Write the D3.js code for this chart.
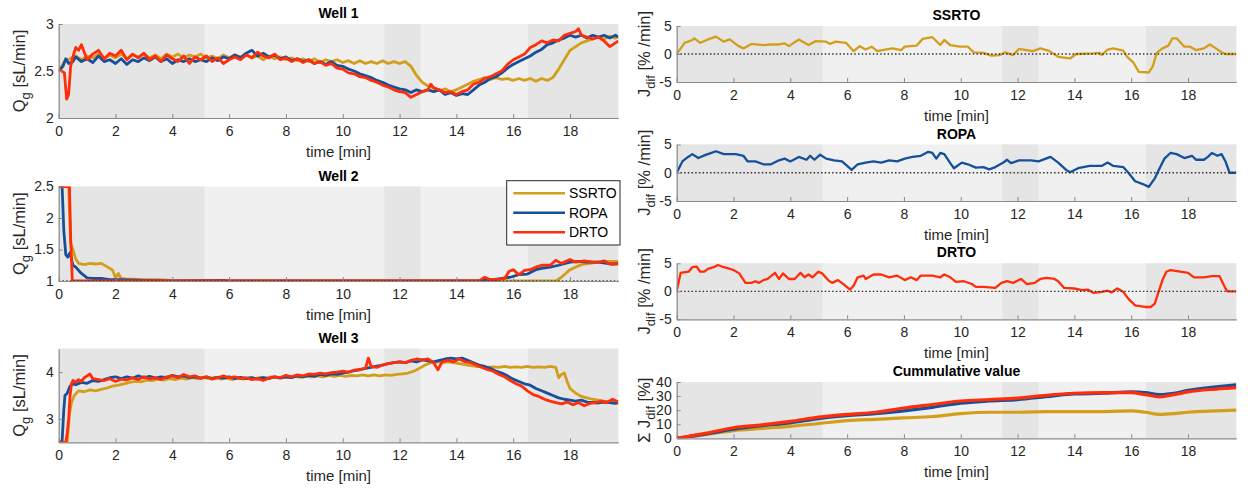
<!DOCTYPE html>
<html>
<head>
<meta charset="utf-8">
<script src="https://cdn.jsdelivr.net/npm/d3@7"></script>
<style>
  body { margin: 0; background: #fff; }
  svg { display: block; font-family: "Liberation Sans", Arial, Helvetica, sans-serif; }
</style>
</head>
<body>
<div id="chart"></div>
<script>
// ---- data (time in min) ----
const seriesNames = ['SSRTO', 'ROPA', 'DRTO'];
const seriesColors = ['#d39e1c', '#16509a', '#ff2d0a'];
const timeMax = 19.7;
// darker shaded intervals, the rest of each axes is light grey
const darkBands = [[0, 5.13], [11.46, 12.73], [16.52, 19.7]];

const w1Ssrto = [[0,2.5],[0.2,2.6],[0.4,2.63],[0.6,2.66],[0.8,2.62],[1.0,2.66],[1.2,2.64],[1.4,2.68],[1.6,2.63],[1.8,2.67],[2.0,2.64],[2.2,2.68],[2.4,2.63],[2.6,2.67],[2.8,2.65],[3.0,2.68],[3.2,2.64],[3.4,2.67],[3.6,2.63],[3.8,2.68],[4.0,2.65],[4.2,2.68],[4.4,2.64],[4.6,2.67],[4.8,2.65],[5.0,2.68],[5.2,2.64],[5.4,2.66],[5.6,2.63],[5.8,2.67],[6.0,2.64],[6.2,2.67],[6.4,2.65],[6.6,2.68],[6.8,2.64],[7.0,2.66],[7.2,2.62],[7.4,2.66],[7.6,2.63],[7.8,2.65],[8.0,2.62],[8.2,2.64],[8.4,2.61],[8.6,2.63],[8.8,2.6],[9.0,2.63],[9.2,2.59],[9.4,2.62],[9.6,2.6],[9.8,2.62],[10.0,2.59],[10.2,2.61],[10.4,2.58],[10.6,2.61],[10.8,2.58],[11.0,2.6],[11.2,2.58],[11.4,2.61],[11.6,2.58],[11.8,2.6],[12.0,2.58],[12.2,2.6],[12.4,2.55],[12.6,2.45],[12.8,2.38],[13.0,2.34],[13.2,2.32],[13.4,2.29],[13.6,2.31],[13.8,2.28],[14.0,2.3],[14.2,2.33],[14.4,2.36],[14.6,2.39],[14.8,2.41],[15.0,2.43],[15.2,2.41],[15.4,2.43],[15.6,2.41],[15.8,2.42],[16.0,2.4],[16.2,2.42],[16.4,2.4],[16.6,2.42],[16.8,2.39],[17.0,2.42],[17.2,2.4],[17.4,2.43],[17.6,2.52],[17.8,2.62],[18.0,2.72],[18.2,2.76],[18.4,2.8],[18.6,2.82],[18.8,2.84],[19.0,2.86],[19.2,2.84],[19.4,2.87],[19.6,2.85],[19.7,2.87]];
const w1Ropa = [[0,2.5],[0.15,2.55],[0.25,2.63],[0.35,2.58],[0.5,2.6],[0.6,2.65],[0.8,2.6],[1.0,2.63],[1.2,2.59],[1.4,2.66],[1.6,2.6],[1.8,2.62],[2.0,2.58],[2.2,2.63],[2.4,2.57],[2.6,2.62],[2.8,2.6],[3.0,2.64],[3.2,2.61],[3.4,2.65],[3.6,2.6],[3.8,2.63],[4.0,2.58],[4.2,2.62],[4.4,2.6],[4.6,2.63],[4.8,2.6],[5.0,2.62],[5.2,2.6],[5.4,2.64],[5.6,2.61],[5.8,2.65],[6.0,2.63],[6.2,2.67],[6.4,2.64],[6.6,2.69],[6.8,2.72],[7.0,2.66],[7.2,2.69],[7.4,2.65],[7.6,2.67],[7.8,2.63],[8.0,2.65],[8.2,2.61],[8.4,2.63],[8.6,2.6],[8.8,2.62],[9.0,2.58],[9.2,2.6],[9.4,2.57],[9.6,2.6],[9.8,2.56],[10.0,2.55],[10.2,2.52],[10.4,2.5],[10.6,2.47],[10.8,2.45],[11.0,2.43],[11.2,2.4],[11.4,2.38],[11.6,2.35],[11.8,2.33],[12.0,2.31],[12.2,2.3],[12.4,2.27],[12.6,2.3],[12.8,2.28],[13.0,2.3],[13.2,2.28],[13.4,2.3],[13.6,2.25],[13.8,2.27],[14.0,2.24],[14.2,2.26],[14.4,2.25],[14.6,2.3],[14.8,2.35],[15.0,2.38],[15.2,2.42],[15.4,2.44],[15.6,2.48],[15.8,2.53],[16.0,2.57],[16.2,2.6],[16.4,2.63],[16.6,2.66],[16.8,2.7],[17.0,2.73],[17.2,2.78],[17.4,2.8],[17.6,2.83],[17.8,2.85],[18.0,2.88],[18.2,2.86],[18.4,2.88],[18.6,2.85],[18.8,2.88],[19.0,2.86],[19.2,2.88],[19.4,2.85],[19.6,2.88],[19.7,2.86]];
const w1Drto = [[0,2.52],[0.2,2.48],[0.28,2.2],[0.35,2.25],[0.42,2.55],[0.5,2.65],[0.6,2.75],[0.7,2.72],[0.8,2.78],[0.9,2.7],[1.0,2.62],[1.2,2.68],[1.4,2.72],[1.6,2.63],[1.8,2.69],[2.0,2.66],[2.2,2.72],[2.4,2.62],[2.6,2.68],[2.8,2.64],[3.0,2.69],[3.2,2.62],[3.4,2.66],[3.6,2.6],[3.8,2.67],[4.0,2.63],[4.2,2.6],[4.4,2.66],[4.6,2.58],[4.8,2.65],[5.0,2.62],[5.2,2.66],[5.4,2.6],[5.6,2.64],[5.8,2.58],[6.0,2.62],[6.2,2.65],[6.4,2.62],[6.6,2.67],[6.8,2.64],[7.0,2.7],[7.2,2.66],[7.4,2.64],[7.6,2.68],[7.8,2.62],[8.0,2.64],[8.2,2.6],[8.4,2.63],[8.6,2.59],[8.8,2.62],[9.0,2.58],[9.2,2.6],[9.4,2.56],[9.6,2.58],[9.8,2.53],[10.0,2.52],[10.2,2.48],[10.4,2.47],[10.6,2.44],[10.8,2.43],[11.0,2.4],[11.2,2.38],[11.4,2.35],[11.6,2.33],[11.8,2.3],[12.0,2.28],[12.2,2.27],[12.4,2.22],[12.6,2.25],[12.8,2.28],[13.0,2.3],[13.1,2.36],[13.2,2.32],[13.4,2.3],[13.6,2.27],[13.8,2.28],[14.0,2.25],[14.2,2.28],[14.4,2.3],[14.6,2.36],[14.8,2.38],[15.0,2.42],[15.2,2.44],[15.4,2.47],[15.6,2.5],[15.8,2.57],[16.0,2.62],[16.2,2.65],[16.4,2.68],[16.6,2.75],[16.8,2.78],[17.0,2.82],[17.2,2.8],[17.4,2.83],[17.6,2.82],[17.8,2.88],[18.0,2.9],[18.2,2.92],[18.3,2.95],[18.4,2.88],[18.6,2.86],[18.8,2.84],[19.0,2.86],[19.2,2.82],[19.4,2.76],[19.6,2.8],[19.7,2.82]];

const w2Ssrto = [[0,2.5],[0.35,2.5],[0.42,1.6],[0.5,1.5],[0.6,1.35],[0.7,1.28],[0.9,1.26],[1.1,1.28],[1.3,1.27],[1.5,1.28],[1.65,1.24],[1.8,1.2],[1.9,1.17],[2.0,1.05],[2.1,1.12],[2.2,1.04],[2.4,1.03],[2.6,1.03],[3.0,1.02],[3.5,1.02],[4.0,1.01],[5.0,1.0],[17.5,1.0],[17.7,1.06],[17.8,1.1],[18.0,1.18],[18.2,1.22],[18.4,1.26],[18.7,1.28],[19.0,1.3],[19.4,1.31],[19.7,1.31]];
const w2Ropa = [[0,2.5],[0.12,2.5],[0.18,1.8],[0.25,1.42],[0.32,1.38],[0.4,1.45],[0.5,1.25],[0.6,1.22],[0.8,1.12],[1.0,1.05],[1.2,1.04],[1.5,1.04],[1.8,1.02],[2.2,1.02],[3.0,1.01],[4.0,1.0],[5.8,1.01],[6.0,1.0],[14.8,1.0],[15.0,1.03],[15.3,1.02],[15.6,1.04],[15.9,1.06],[16.2,1.1],[16.5,1.11],[16.8,1.18],[17.0,1.2],[17.3,1.22],[17.6,1.25],[18.0,1.3],[18.3,1.31],[18.6,1.3],[19.0,1.3],[19.3,1.28],[19.5,1.27],[19.7,1.28]];
const w2Drto = [[0,2.5],[0.38,2.5],[0.42,1.7],[0.48,1.0],[14.8,1.0],[15.0,1.06],[15.2,1.02],[15.5,1.03],[15.7,1.04],[15.85,1.15],[16.0,1.18],[16.2,1.1],[16.4,1.17],[16.6,1.18],[16.8,1.22],[17.0,1.25],[17.3,1.25],[17.5,1.33],[17.7,1.28],[18.0,1.34],[18.2,1.3],[18.5,1.32],[18.8,1.3],[19.0,1.3],[19.2,1.32],[19.4,1.27],[19.7,1.27]];

const w3Ssrto = [[0,2.5],[0.3,2.5],[0.38,3.1],[0.45,3.35],[0.55,3.5],[0.7,3.6],[0.9,3.58],[1.1,3.62],[1.3,3.6],[1.5,3.63],[1.7,3.66],[1.9,3.7],[2.1,3.72],[2.3,3.75],[2.5,3.78],[2.7,3.8],[2.9,3.79],[3.1,3.83],[3.3,3.82],[3.5,3.85],[3.7,3.83],[3.9,3.86],[4.1,3.84],[4.3,3.87],[4.5,3.85],[4.7,3.88],[4.9,3.86],[5.1,3.88],[5.3,3.86],[5.5,3.89],[5.7,3.85],[5.9,3.87],[6.1,3.84],[6.3,3.87],[6.5,3.85],[6.7,3.88],[6.9,3.86],[7.1,3.89],[7.3,3.87],[7.5,3.9],[7.7,3.88],[7.9,3.9],[8.1,3.88],[8.3,3.91],[8.5,3.89],[8.7,3.91],[8.9,3.9],[9.1,3.92],[9.3,3.9],[9.5,3.93],[9.7,3.91],[9.9,3.93],[10.1,3.91],[10.3,3.93],[10.5,3.92],[10.7,3.94],[10.9,3.92],[11.1,3.94],[11.3,3.92],[11.5,3.94],[11.7,3.93],[11.9,3.95],[12.1,3.96],[12.3,3.98],[12.5,4.02],[12.7,4.08],[12.9,4.15],[13.1,4.2],[13.3,4.22],[13.5,4.2],[13.7,4.22],[13.9,4.2],[14.1,4.18],[14.3,4.16],[14.5,4.14],[14.7,4.12],[14.9,4.12],[15.1,4.1],[15.3,4.11],[15.5,4.1],[15.7,4.12],[15.9,4.1],[16.1,4.11],[16.3,4.1],[16.5,4.12],[16.7,4.1],[16.9,4.11],[17.1,4.1],[17.3,4.12],[17.5,4.1],[17.6,3.88],[17.7,3.95],[17.8,3.98],[17.9,3.8],[18.0,3.65],[18.2,3.55],[18.4,3.48],[18.6,3.45],[18.8,3.42],[19.0,3.4],[19.2,3.38],[19.4,3.37],[19.6,3.35],[19.7,3.33]];
const w3Ropa = [[0,2.5],[0.12,2.52],[0.18,3.2],[0.22,3.5],[0.3,3.55],[0.4,3.7],[0.5,3.75],[0.6,3.73],[0.8,3.78],[1.0,3.76],[1.2,3.82],[1.4,3.8],[1.6,3.84],[1.8,3.88],[2.0,3.9],[2.2,3.86],[2.4,3.9],[2.6,3.87],[2.8,3.92],[3.0,3.88],[3.2,3.91],[3.4,3.87],[3.6,3.9],[3.8,3.88],[4.0,3.93],[4.2,3.9],[4.4,3.92],[4.6,3.88],[4.8,3.9],[5.0,3.87],[5.2,3.9],[5.4,3.86],[5.6,3.89],[5.8,3.87],[6.0,3.9],[6.2,3.86],[6.4,3.89],[6.6,3.86],[6.8,3.88],[7.0,3.85],[7.2,3.88],[7.4,3.86],[7.6,3.9],[7.8,3.87],[8.0,3.9],[8.2,3.88],[8.4,3.92],[8.6,3.9],[8.8,3.93],[9.0,3.91],[9.2,3.95],[9.4,3.93],[9.6,3.96],[9.8,3.95],[10.0,3.98],[10.2,4.0],[10.4,4.03],[10.6,4.05],[10.8,4.08],[11.0,4.1],[11.2,4.13],[11.4,4.15],[11.6,4.18],[11.8,4.2],[12.0,4.22],[12.2,4.2],[12.4,4.24],[12.6,4.22],[12.8,4.26],[13.0,4.24],[13.2,4.22],[13.4,4.25],[13.6,4.28],[13.8,4.3],[14.0,4.28],[14.2,4.3],[14.4,4.25],[14.6,4.2],[14.8,4.15],[15.0,4.12],[15.2,4.08],[15.4,4.02],[15.6,3.98],[15.8,3.92],[16.0,3.85],[16.2,3.8],[16.4,3.75],[16.6,3.72],[16.8,3.65],[17.0,3.6],[17.2,3.55],[17.4,3.5],[17.6,3.45],[17.8,3.42],[18.0,3.4],[18.2,3.38],[18.4,3.4],[18.6,3.36],[18.8,3.35],[19.0,3.34],[19.2,3.36],[19.4,3.35],[19.6,3.33],[19.7,3.36]];
const w3Drto = [[0,2.5],[0.25,2.5],[0.3,2.7],[0.35,3.0],[0.4,3.5],[0.45,3.75],[0.5,3.82],[0.6,3.78],[0.7,3.84],[0.8,3.8],[0.9,3.88],[1.0,3.92],[1.1,3.96],[1.2,3.86],[1.4,3.84],[1.6,3.82],[1.8,3.86],[2.0,3.8],[2.2,3.85],[2.4,3.83],[2.6,3.88],[2.8,3.84],[3.0,3.9],[3.2,3.85],[3.4,3.88],[3.6,3.84],[3.8,3.9],[4.0,3.92],[4.2,3.88],[4.4,3.95],[4.6,3.9],[4.8,3.92],[5.0,3.87],[5.2,3.9],[5.4,3.85],[5.6,3.88],[5.8,3.92],[6.0,3.88],[6.2,3.9],[6.4,3.86],[6.6,3.88],[6.8,3.84],[7.0,3.86],[7.2,3.82],[7.4,3.87],[7.6,3.9],[7.8,3.88],[8.0,3.93],[8.2,3.9],[8.4,3.94],[8.6,3.92],[8.8,3.96],[9.0,3.95],[9.2,3.98],[9.4,3.96],[9.6,3.99],[9.8,4.0],[10.0,4.02],[10.2,4.0],[10.4,4.04],[10.6,4.06],[10.8,4.08],[10.9,4.3],[11.0,4.12],[11.2,4.1],[11.4,4.15],[11.6,4.18],[11.8,4.2],[12.0,4.22],[12.2,4.2],[12.4,4.25],[12.6,4.28],[12.8,4.26],[13.0,4.28],[13.2,4.2],[13.35,4.05],[13.5,4.22],[13.7,4.25],[13.9,4.22],[14.1,4.28],[14.3,4.22],[14.5,4.2],[14.7,4.15],[14.9,4.1],[15.1,4.05],[15.3,4.02],[15.5,3.95],[15.7,3.9],[15.9,3.82],[16.1,3.75],[16.3,3.7],[16.5,3.6],[16.7,3.52],[16.9,3.48],[17.1,3.42],[17.3,3.38],[17.5,3.35],[17.7,3.32],[17.9,3.36],[18.1,3.3],[18.3,3.35],[18.5,3.28],[18.7,3.33],[18.9,3.35],[19.1,3.38],[19.3,3.35],[19.5,3.42],[19.7,3.36]];

// J_dif [% /min]
const jSsrto = [[0,0],[0.28,2.0],[0.55,2.5],[0.62,2.8],[0.83,2.0],[1.1,2.6],[1.38,3.1],[1.66,2.2],[1.87,2.6],[2.15,1.5],[2.35,1.0],[2.63,1.8],[3.05,1.6],[3.3,1.7],[3.6,1.7],[3.8,1.9],[3.95,1.4],[4.3,2.6],[4.64,1.6],[4.9,2.3],[5.26,2.2],[5.4,1.8],[5.6,2.2],[5.96,2.0],[6.23,0.5],[6.44,1.4],[6.65,0.8],[6.86,1.3],[7.06,0.5],[7.34,0.8],[7.6,1.0],[7.9,0.7],[8.03,1.3],[8.45,1.5],[8.66,2.7],[9.0,3.0],[9.28,1.6],[9.42,2.5],[9.63,1.6],[9.97,1.3],[10.25,1.3],[10.46,0.3],[10.8,0.2],[11.08,-0.3],[11.36,-0.2],[11.57,0.3],[11.84,-0.2],[12.05,0.9],[12.53,0.5],[12.8,1.0],[13.09,0.6],[13.43,-0.5],[13.85,-0.8],[14.06,0],[14.68,0.1],[14.9,0.2],[14.96,-0.2],[15.17,0.8],[15.37,1.0],[15.72,0.6],[15.86,-0.5],[16.07,-1.5],[16.27,-3.2],[16.62,-3.3],[16.76,-2.2],[16.9,0.2],[17.1,1.0],[17.31,1.5],[17.45,2.8],[17.6,2.8],[17.87,1.3],[18.07,1.3],[18.28,0.7],[18.56,1.0],[18.77,1.7],[18.98,1.0],[19.18,0.3],[19.32,0],[19.7,0]];
const jRopa = [[0,0],[0.2,2.0],[0.4,2.8],[0.55,3.3],[0.76,2.6],[1.04,3.2],[1.1,3.3],[1.38,3.8],[1.66,3.3],[2.08,3.3],[2.35,3.0],[2.5,2.0],[2.77,2.0],[3.05,1.5],[3.32,1.5],[3.6,2.2],[3.8,2.5],[4.0,2.0],[4.3,2.8],[4.57,2.3],[4.7,3.0],[4.85,2.3],[5.05,3.2],[5.26,2.5],[5.54,2.2],[5.82,2.0],[6.16,0.5],[6.37,1.5],[6.65,1.8],[6.93,2.0],[7.2,1.8],[7.48,2.2],[7.76,2.0],[8.03,2.5],[8.3,2.8],[8.59,3.0],[8.86,3.7],[9.0,3.5],[9.14,2.5],[9.28,3.5],[9.42,3.3],[9.63,1.7],[9.76,0.8],[10.04,1.8],[10.25,1.5],[10.53,0.9],[10.8,1.0],[11.0,0.6],[11.22,1.0],[11.5,1.8],[11.63,2.3],[11.77,1.7],[12.05,2.2],[12.47,2.2],[12.74,2.0],[13.16,2.8],[13.43,1.8],[13.71,0.5],[13.85,0.1],[14.13,0.8],[14.54,1.2],[14.96,1.2],[15.17,1.8],[15.37,1.2],[15.72,1.0],[15.9,0],[16.14,-1.5],[16.41,-2.0],[16.62,-2.5],[16.83,-1.0],[16.97,0.5],[17.17,2.5],[17.38,3.5],[17.6,3.3],[17.87,2.6],[18.14,3.0],[18.28,2.3],[18.56,2.3],[18.7,2.8],[18.84,3.5],[19.04,3.0],[19.18,3.3],[19.32,2.0],[19.46,0],[19.7,0]];
const jDrto = [[0,0],[0.14,3.3],[0.42,3.5],[0.55,4.3],[0.7,4.4],[0.83,3.5],[0.97,3.5],[1.1,4.0],[1.3,4.3],[1.45,4.7],[1.66,4.3],[1.87,4.0],[2.0,3.8],[2.2,3.2],[2.42,1.5],[2.63,1.5],[2.77,1.8],[2.9,1.5],[3.05,2.0],[3.2,2.2],[3.46,3.3],[3.6,2.2],[3.74,3.2],[3.95,2.2],[4.15,2.2],[4.36,3.3],[4.5,2.5],[4.64,3.0],[4.78,2.5],[4.99,3.5],[5.12,3.2],[5.33,2.0],[5.47,1.5],[5.68,2.0],[5.89,1.2],[6.1,0.3],[6.23,1.0],[6.37,2.5],[6.58,2.8],[6.65,2.2],[6.93,3.0],[7.2,3.0],[7.48,2.5],[7.76,2.8],[8.03,2.0],[8.24,2.5],[8.45,2.0],[8.59,2.8],[9.0,2.8],[9.28,2.5],[9.42,3.0],[9.63,2.5],[9.83,1.7],[10.11,1.8],[10.39,1.3],[10.53,0.8],[10.8,0.8],[11.22,0.6],[11.43,1.5],[11.63,1.8],[11.84,1.5],[12.12,2.2],[12.33,1.3],[12.6,1.5],[12.8,2.2],[13.02,2.4],[13.3,2.2],[13.43,1.8],[13.64,0.6],[13.99,0.5],[14.27,0.2],[14.47,0.3],[14.68,-0.3],[14.96,-0.1],[15.17,0.1],[15.3,-0.2],[15.51,0.5],[15.72,-0.1],[15.93,-1.5],[16.14,-2.5],[16.48,-2.8],[16.69,-2.8],[16.83,-2.2],[16.97,0],[17.1,2.0],[17.24,3.5],[17.38,3.8],[17.73,3.5],[18.0,3.3],[18.21,2.5],[18.56,2.5],[18.84,2.7],[19.11,2.7],[19.32,0.5],[19.39,0],[19.7,0]];

// cumulative sum of J_dif [%]
const cumSsrto = [[0,0],[1,2.5],[2,5.5],[3,7],[4,8.5],[5,10.5],[6,12.5],[7,13.5],[8,14.5],[9,15.5],[10,17.5],[11,18.5],[12,18.5],[13,19],[14,19],[15,19],[16,19.5],[16.5,18.5],[17,17],[17.5,17.5],[18,18.5],[19,19.5],[19.7,20]];
const cumRopa = [[0,0],[1,3],[2,6.5],[3,9],[4,11],[5,14],[6,16],[7,17.5],[8,19.5],[9,22],[10,25],[11,26.5],[12,27.5],[13,29.5],[14,31.5],[15,32],[16,33],[16.5,32.5],[17,31],[17.5,32],[18,34],[19,36.5],[19.7,38]];
const cumDrto = [[0,0],[1,3.5],[2,7.5],[3,9.5],[4,12],[5,15],[6,17],[7,18.5],[8,21.5],[9,24],[10,26.5],[11,27.5],[12,28.5],[13,30.5],[14,32],[15,32.5],[16,32.5],[16.5,31],[17,29.5],[17.5,31],[18,33],[19,35],[19.7,36]];

const xTicks = [0, 2, 4, 6, 8, 10, 12, 14, 16, 18];

// ---- layout ----
const W = 1248, H = 490;
const leftX = [58.7, 618.3], rightX = [676.7, 1236.3];

const panels = [
  { title: 'Well 1', x: leftX, top: 24, h: 94, y: [2, 3], yTicks: [2, 2.5, 3], ylab: ['Q', 'g', ' [sL/min]'],
    lines: [w1Ssrto, w1Ropa, w1Drto], colors: [0, 1, 2], lw: 2.8 },
  { title: 'Well 2', x: leftX, top: 186.5, h: 94.5, y: [1, 2.5], yTicks: [1, 1.5, 2, 2.5], ylab: ['Q', 'g', ' [sL/min]'],
    lines: [w2Ssrto, w2Ropa, w2Drto], colors: [0, 1, 2], lw: 2.8, refLine: 1 },
  { title: 'Well 3', x: leftX, top: 348.7, h: 93.6, y: [2.5, 4.5], yTicks: [3, 4], ylab: ['Q', 'g', ' [sL/min]'],
    lines: [w3Ssrto, w3Ropa, w3Drto], colors: [0, 1, 2], lw: 2.8 },
  { title: 'SSRTO', x: rightX, top: 26, h: 56, y: [-5, 5], yTicks: [-5, 0, 5], ylab: ['J', 'dif', ' [% /min]'],
    lines: [jSsrto], colors: [0], lw: 2.3, refLine: 0 },
  { title: 'ROPA', x: rightX, top: 144.5, h: 56.5, y: [-5, 5], yTicks: [-5, 0, 5], ylab: ['J', 'dif', ' [% /min]'],
    lines: [jRopa], colors: [1], lw: 2.3, refLine: 0 },
  { title: 'DRTO', x: rightX, top: 263.3, h: 56, y: [-5, 5], yTicks: [-5, 0, 5], ylab: ['J', 'dif', ' [% /min]'],
    lines: [jDrto], colors: [2], lw: 2.3, refLine: 0 },
  { title: 'Cummulative value', x: rightX, top: 382, h: 56.3, y: [0, 40], yTicks: [0, 10, 20, 30, 40], ylab: ['\u03A3 J', 'dif', ' [%]'],
    lines: [cumSsrto, cumRopa, cumDrto], colors: [0, 1, 2], lw: 3.2, smooth: true }
];

const svg = d3.select('#chart').append('svg').attr('width', W).attr('height', H);

panels.forEach((p, i) => {
  const x = d3.scaleLinear().domain([0, timeMax]).range(p.x);
  const y = d3.scaleLinear().domain(p.y).range([p.top + p.h, p.top]);
  const g = svg.append('g');

  // background and shaded intervals
  g.append('rect').attr('x', p.x[0]).attr('y', p.top)
    .attr('width', p.x[1] - p.x[0]).attr('height', p.h).attr('fill', '#f0f0f0');
  g.selectAll('.band').data(darkBands).enter().append('rect')
    .attr('x', d => x(d[0])).attr('y', p.top)
    .attr('width', d => x(d[1]) - x(d[0])).attr('height', p.h)
    .attr('fill', '#e5e5e5');

  const clipId = 'clip' + i;
  svg.append('clipPath').attr('id', clipId).append('rect')
    .attr('x', p.x[0]).attr('y', p.top).attr('width', p.x[1] - p.x[0]).attr('height', p.h);

  const line = d3.line().x(d => x(d[0])).y(d => y(d[1]))
    .curve(p.smooth ? d3.curveMonotoneX : d3.curveLinear);

  const lg = g.append('g').attr('clip-path', `url(#${clipId})`);
  p.lines.forEach((s, k) => {
    lg.append('path').datum(s).attr('d', line)
      .attr('fill', 'none').attr('stroke', seriesColors[p.colors[k]])
      .attr('stroke-width', p.lw).attr('stroke-linejoin', 'round');
  });

  if (p.refLine !== undefined) {
    lg.append('line').attr('x1', p.x[0]).attr('x2', p.x[1])
      .attr('y1', y(p.refLine)).attr('y2', y(p.refLine))
      .attr('stroke', '#333').attr('stroke-width', 1.3).attr('stroke-dasharray', '1.5,2.2');
  }

  // axes
  const xAxis = d3.axisBottom(x).tickValues(xTicks).tickFormat(d3.format('d')).tickSizeInner(-4).tickSizeOuter(0).tickPadding(8);
  const gx = g.append('g').attr('transform', `translate(0,${p.top + p.h})`).call(xAxis);
  const yAxis = d3.axisLeft(y).tickValues(p.yTicks).tickFormat(d => String(d)).tickSizeInner(-4).tickSizeOuter(0).tickPadding(5);
  const gy = g.append('g').attr('transform', `translate(${p.x[0]},0)`).call(yAxis);
  [gx, gy].forEach(a => {
    a.select('.domain').attr('stroke', '#8a8a8a').attr('stroke-width', 1.2);
    a.selectAll('.tick line').attr('stroke', '#8a8a8a');
    a.selectAll('.tick text').attr('fill', '#262626').style('font-size', '14px')
      .style('font-family', '"Liberation Sans", Arial, sans-serif');
  });

  // title
  g.append('text').attr('x', (p.x[0] + p.x[1]) / 2).attr('y', p.top - 6)
    .attr('text-anchor', 'middle').style('font-size', '14px').style('font-weight', 'bold')
    .attr('fill', '#000').text(p.title);

  // x label
  g.append('text').attr('x', (p.x[0] + p.x[1]) / 2).attr('y', p.top + p.h + 39)
    .attr('text-anchor', 'middle').style('font-size', '15px').attr('fill', '#262626')
    .text('time [min]');

  // y label with subscript
  const yl = g.append('text')
    .attr('transform', `translate(${p.x[0] - (i < 3 ? 34 : 27)},${p.top + p.h / 2}) rotate(-90)`)
    .attr('text-anchor', 'middle').style('font-size', '16.5px').attr('fill', '#262626');
  yl.append('tspan').text(p.ylab[0]);
  yl.append('tspan').attr('dy', 5).style('font-size', '13px').text(p.ylab[1]);
  yl.append('tspan').attr('dy', -5).text(p.ylab[2]);
});

// legend
const legend = svg.append('g');
legend.append('rect').attr('x', 506.7).attr('y', 180.7).attr('width', 113.3).attr('height', 64.3)
  .attr('fill', '#fff').attr('stroke', '#262626').attr('stroke-width', 1);
seriesNames.forEach((n, k) => {
  const yy = 193.3 + k * 19.5;
  legend.append('line').attr('x1', 513.3).attr('x2', 565).attr('y1', yy).attr('y2', yy)
    .attr('stroke', seriesColors[k]).attr('stroke-width', 2.6);
  legend.append('text').attr('x', 569).attr('y', yy + 5).style('font-size', '14px')
    .attr('fill', '#000').text(n);
});
</script>
</body>
</html>
